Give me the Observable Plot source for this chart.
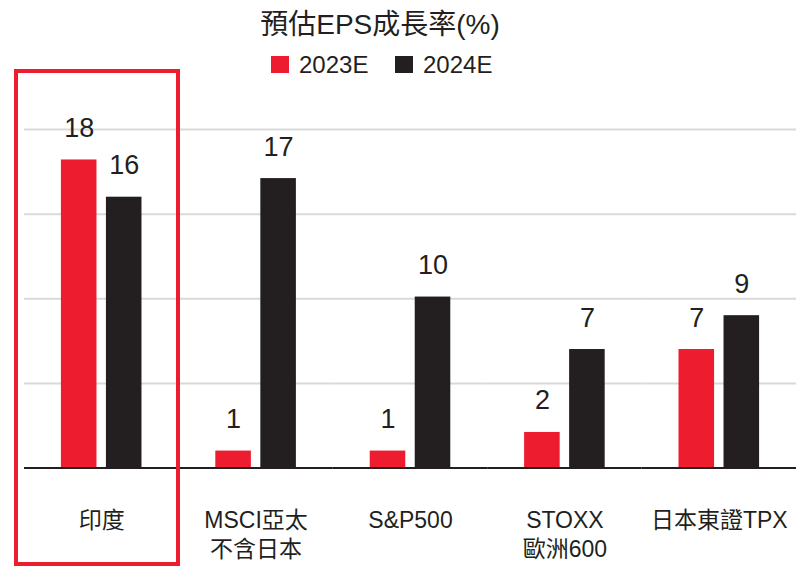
<!DOCTYPE html>
<html>
<head>
<meta charset="utf-8">
<script src="https://cdn.jsdelivr.net/npm/d3@7"></script>
<script src="https://cdn.jsdelivr.net/npm/@observablehq/plot@0.6"></script>
<style>
  html, body { margin: 0; padding: 0; background: #fff; }
  #wrap { position: relative; width: 800px; height: 571px; }
  #wrap svg { position: absolute; left: 0; top: 0; }
</style>
</head>
<body>
<div id="wrap"></div>
<script>
const categories = ["印度", "MSCI亞太\n不含日本", "S&P500", "STOXX\n歐洲600", "日本東證TPX"];
const series = ["2023E", "2024E"];
const values2023 = [18.2, 1.0, 1.0, 2.1, 7.0];
const values2024 = [16.0, 17.1, 10.1, 7.0, 9.0];
const gridTicks = [5, 10, 15, 20];
const titleText = "預估EPS成長率(%)";

const RED = "#ED1C2E";
const BLACK = "#231F20";
const FONT = "'Liberation Sans', Arial, 'Noto Sans CJK TC', sans-serif";

const data = categories.flatMap((c, i) => [
  {cat: c, year: series[0], value: values2023[i]},
  {cat: c, year: series[1], value: values2024[i]}
]);

const chart = Plot.plot({
  width: 800,
  height: 571,
  marginTop: 129,
  marginBottom: 103.5,
  marginLeft: 24,
  marginRight: 4,
  style: {fontFamily: FONT, color: BLACK, background: "transparent"},
  fx: {domain: categories, padding: 0, round: false, label: null},
  x: {domain: series, paddingInner: 0.21, paddingOuter: 0.82, round: false, axis: null},
  y: {domain: [0, 20], axis: null},
  color: {domain: series, range: [RED, BLACK]},
  marks: [
    Plot.ruleY(gridTicks, {stroke: "#d9d9d9", strokeWidth: 2}),
    Plot.barY(data, {fx: "cat", x: "year", y: "value", fill: "year"}),
    Plot.ruleY([0], {stroke: BLACK, strokeWidth: 2}),
    Plot.text(data, {fx: "cat", x: "year", y: "value", text: d => d3.format(".0f")(d.value),
      dy: -23, lineAnchor: "bottom", fontSize: 27, fill: BLACK}),
    Plot.axisFx({anchor: "bottom", tickSize: 0, tickPadding: 39.5, fontSize: 23, lineHeight: 1.26, label: null, fill: BLACK})
  ]
});
document.getElementById("wrap").appendChild(chart);

// Overlay: title, legend, highlight box
const ov = d3.select("#wrap").append("svg")
  .attr("width", 800).attr("height", 571)
  .style("pointer-events", "none")
  .style("font-family", FONT);

ov.append("text").attr("x", 380).attr("y", 34).attr("text-anchor", "middle")
  .attr("font-size", 28).attr("fill", BLACK).text(titleText);

const legendX = [271, 395];
series.forEach((s, i) => {
  ov.append("rect").attr("x", legendX[i]).attr("y", 56).attr("width", 18).attr("height", 17)
    .attr("fill", [RED, BLACK][i]);
  ov.append("text").attr("x", legendX[i] + 28).attr("y", 72.5).attr("font-size", 24)
    .attr("fill", BLACK).text(s);
});

// highlight box around the first group
ov.append("rect").attr("x", 16).attr("y", 71).attr("width", 162).attr("height", 493)
  .attr("fill", "none").attr("stroke", RED).attr("stroke-width", 4);
</script>
</body>
</html>
